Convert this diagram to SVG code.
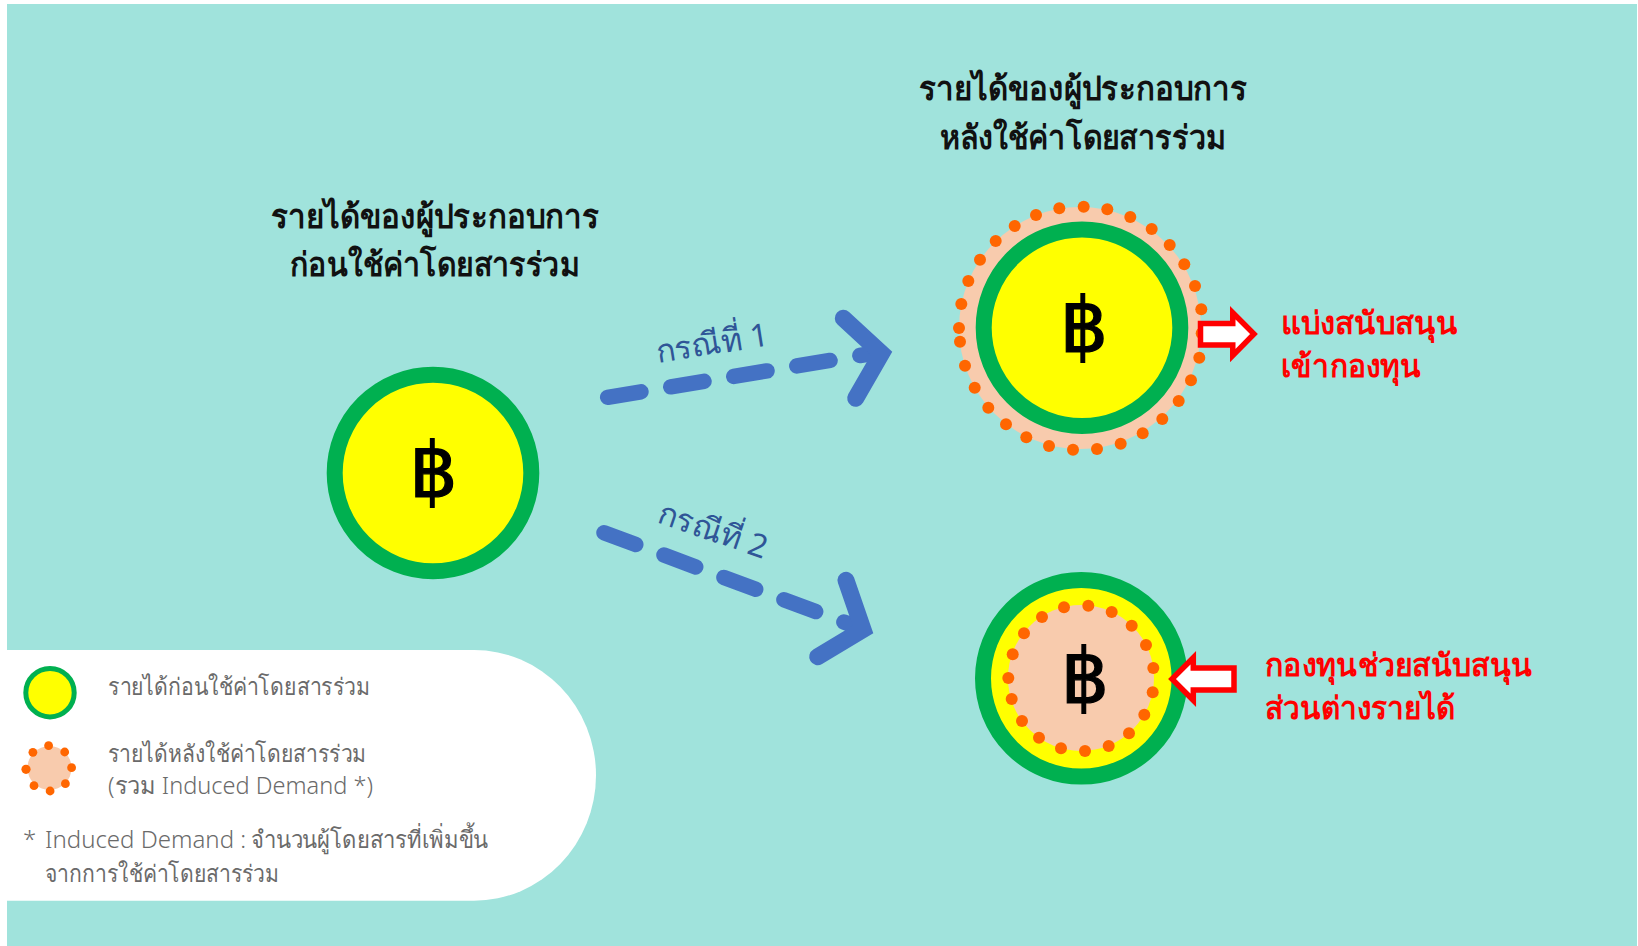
<svg xmlns="http://www.w3.org/2000/svg" width="1638" height="946" viewBox="0 0 1638 946">
<style>
.t{font-family:"Noto Sans","DejaVu Sans","Liberation Sans",sans-serif}
.title{font-size:33px;font-weight:600;fill:#111;text-anchor:middle}
.red{font-size:31.5px;font-weight:600;fill:#f00}
.case{font-size:32px;fill:#2f5597}
.leg{font-size:24px;font-weight:300;fill:#6a6a6a}
.baht{font-size:76px;fill:#000;stroke:#000;stroke-width:1.2;text-anchor:middle;font-family:"DejaVu Sans",sans-serif}
.ring{fill:#ff0;stroke:#00b050;stroke-width:16}
.peach{fill:#f8cbad}
.dots circle{fill:#ff6600}
.block{fill:#fff;stroke:#f00;stroke-width:5.5}
.cn{fill:none;stroke:#4472c4;stroke-width:15.5;stroke-linecap:round}
</style>
<rect width="1638" height="946" fill="#fff"/>
<rect x="7" y="4" width="1630" height="942" fill="#a0e3dc"/>
<g id="connectors">
<path class="cn" stroke-dasharray="33.7 30.2" d="M607.7 397.3L875 353"/>
<path class="cn" style="stroke-width:17" d="M843.3 318.3L881.5 353.4L855.7 398.3"/>
<path class="cn" stroke-dasharray="33.9 30.1" d="M604 532.7L857 627"/>
<path class="cn" style="stroke-width:17" d="M846 580.3L863 629.5L817.7 656.7"/>
</g>
<g id="label-case-1"><text class="t case" transform="translate(657.5 363) rotate(-9)">กรณีที่ 1</text></g>
<g id="label-case-2"><text class="t case" transform="translate(655.5 522) rotate(19)">กรณีที่ 2</text></g>
<g id="title-before">
<text class="t title" x="435" y="228" textLength="329" lengthAdjust="spacingAndGlyphs">รายได้ของผู้ประกอบการ</text>
<text class="t title" x="435" y="276" textLength="290" lengthAdjust="spacingAndGlyphs">ก่อนใช้ค่าโดยสารร่วม</text>
</g>
<g id="title-after">
<text class="t title" x="1083" y="100" textLength="329" lengthAdjust="spacingAndGlyphs">รายได้ของผู้ประกอบการ</text>
<text class="t title" x="1083" y="149" textLength="287" lengthAdjust="spacingAndGlyphs">หลังใช้ค่าโดยสารร่วม</text>
</g>
<g id="node-before">
<circle class="ring" cx="433" cy="473" r="98.3"/>
<text class="baht" x="433.5" y="497">฿</text>
</g>
<g id="node-case-1">
<circle class="peach" cx="1080" cy="328" r="121"/>
<g class="dots">
<circle cx="1083.7" cy="206.7" r="6"/><circle cx="1107.3" cy="209.3" r="6"/><circle cx="1130.3" cy="217" r="6"/><circle cx="1151.7" cy="229" r="6"/><circle cx="1169.7" cy="245" r="6"/><circle cx="1184.3" cy="264.3" r="6"/><circle cx="1195" cy="286" r="6"/><circle cx="1201.3" cy="309.3" r="6"/><circle cx="1201.7" cy="333.3" r="6"/><circle cx="1199.3" cy="357.7" r="6"/><circle cx="1191" cy="380.3" r="6"/><circle cx="1178.7" cy="401" r="6"/><circle cx="1162.3" cy="419" r="6"/><circle cx="1142.7" cy="433.3" r="6"/><circle cx="1120.7" cy="443.7" r="6"/><circle cx="1097" cy="449" r="6"/><circle cx="1073" cy="449.7" r="6"/><circle cx="1049" cy="446" r="6"/><circle cx="1026.3" cy="437.3" r="6"/><circle cx="1006" cy="424.3" r="6"/><circle cx="988.3" cy="407.7" r="6"/><circle cx="974.7" cy="387.7" r="6"/><circle cx="965" cy="365.7" r="6"/><circle cx="960" cy="341.7" r="6"/><circle cx="959" cy="328" r="6"/><circle cx="961.3" cy="304" r="6"/><circle cx="968.3" cy="281" r="6"/><circle cx="980" cy="259.7" r="6"/><circle cx="995.7" cy="241" r="6"/><circle cx="1014.7" cy="226" r="6"/><circle cx="1036" cy="215" r="6"/><circle cx="1059.3" cy="208.3" r="6"/>
</g>
<circle class="ring" cx="1082" cy="327.7" r="98.3"/>
<text class="baht" x="1084" y="351.5">฿</text>
</g>
<g id="arrow-out"><polygon class="block" points="1200.5,323.5 1232.75,323.5 1232.75,312.7 1254,334 1232.75,355.6 1232.75,345 1200.5,345"/></g>
<g id="label-out">
<text class="t red" x="1281" y="334" textLength="176.5" lengthAdjust="spacingAndGlyphs">แบ่งสนับสนุน</text>
<text class="t red" x="1281" y="377" textLength="140" lengthAdjust="spacingAndGlyphs">เข้ากองทุน</text>
</g>
<g id="node-case-2">
<circle class="ring" cx="1081.3" cy="678.3" r="98.3"/>
<circle class="peach" cx="1081" cy="678" r="73"/>
<g class="dots">
<circle cx="1088.3" cy="605.7" r="6"/><circle cx="1111.7" cy="612" r="6"/><circle cx="1131.7" cy="625.7" r="6"/><circle cx="1146" cy="645" r="6"/><circle cx="1153.3" cy="668" r="6"/><circle cx="1152.7" cy="692.3" r="6"/><circle cx="1144.3" cy="714.7" r="6"/><circle cx="1129" cy="733.3" r="6"/><circle cx="1108.7" cy="746" r="6"/><circle cx="1085" cy="751" r="6"/><circle cx="1061" cy="748.3" r="6"/><circle cx="1039" cy="737.7" r="6"/><circle cx="1022" cy="721" r="6"/><circle cx="1011.7" cy="699" r="6"/><circle cx="1008.3" cy="678" r="6"/><circle cx="1012.7" cy="654.3" r="6"/><circle cx="1024" cy="633.3" r="6"/><circle cx="1042" cy="617" r="6"/><circle cx="1064" cy="607.3" r="6"/>
</g>
<text class="baht" x="1085" y="702.5">฿</text>
</g>
<g id="arrow-in"><polygon class="block" points="1234,668 1193.3,668 1193.3,657.7 1172,679 1193.3,700.3 1193.3,690 1234,690"/></g>
<g id="label-in">
<text class="t red" x="1265" y="676" textLength="267" lengthAdjust="spacingAndGlyphs">กองทุนช่วยสนับสนุน</text>
<text class="t red" x="1265" y="719" textLength="190" lengthAdjust="spacingAndGlyphs">ส่วนต่างรายได้</text>
</g>
<g id="legend">
<path fill="#fff" d="M0 650H474A122 125.35 0 0 1 474 900.7H0Z"/>
<g id="legend-before"><circle cx="50" cy="692.7" r="24.2" fill="#ff0" stroke="#00b050" stroke-width="5"/>
<text class="t leg" x="108" y="695" textLength="262" lengthAdjust="spacingAndGlyphs">รายได้ก่อนใช้ค่าโดยสารร่วม</text></g>
<g id="legend-after"><circle class="peach" cx="49.5" cy="768" r="22"/>
<g class="dots"><circle cx="48.6" cy="745.7" r="4.4"/><circle cx="64.7" cy="752" r="4.4"/><circle cx="71.6" cy="767.7" r="4.4"/><circle cx="65.4" cy="783.7" r="4.4"/><circle cx="50.1" cy="791" r="4.4"/><circle cx="34" cy="785.7" r="4.4"/><circle cx="26" cy="769.3" r="4.6"/><circle cx="32.9" cy="752.3" r="4.4"/></g>
<text class="t leg" x="108" y="761.7" textLength="258" lengthAdjust="spacingAndGlyphs">รายได้หลังใช้ค่าโดยสารร่วม</text>
<text class="t leg" x="108" y="794" textLength="265" lengthAdjust="spacingAndGlyphs">(รวม Induced Demand *)</text></g>
<g id="legend-note"><text class="t leg" x="23" y="848.3">*</text>
<text class="t leg" x="45" y="848.3">Induced Demand : <tspan x="251" textLength="237" lengthAdjust="spacingAndGlyphs">จำนวนผู้โดยสารที่เพิ่มขึ้น</tspan></text>
<text class="t leg" x="45" y="881.7" textLength="234" lengthAdjust="spacingAndGlyphs">จากการใช้ค่าโดยสารร่วม</text></g>
</g>
</svg>
